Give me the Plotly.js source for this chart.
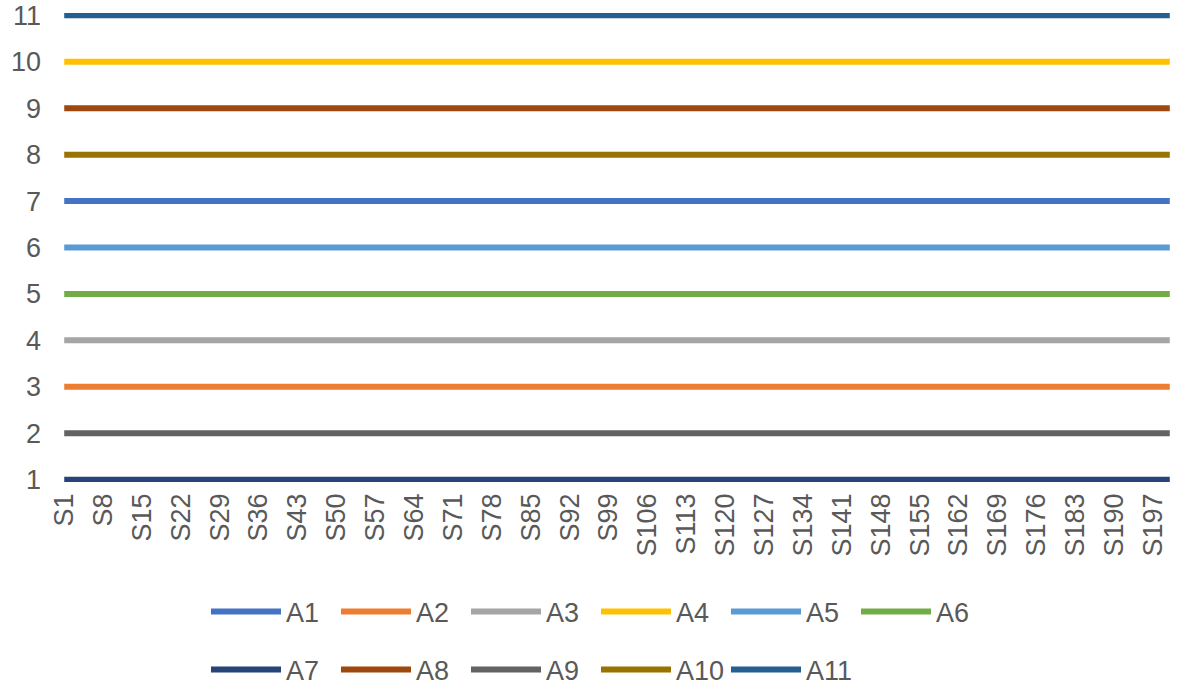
<!DOCTYPE html>
<html>
<head>
<meta charset="utf-8">
<script src="https://cdn.plot.ly/plotly-3.0.1.min.js"></script>
<style>
  html, body { margin: 0; padding: 0; background: #fff; }
  #chart { width: 1180px; height: 685px; }
</style>
</head>
<body>
<div id="chart"></div>
<script>
// series names, level of each flat line, Excel palette colours
var seriesNames = ['A1', 'A2', 'A3', 'A4', 'A5', 'A6', 'A7', 'A8', 'A9', 'A10', 'A11'];
var seriesLevels = [7, 3, 4, 10, 6, 5, 1, 9, 2, 8, 11];
var seriesColors = ['#4472C4', '#ED7D31', '#A5A5A5', '#FFC000', '#5B9BD5', '#70AD47',
                    '#264478', '#9E480E', '#636363', '#997300', '#255E91'];
var nSamples = 200;   // S1 .. S200
var tickStep = 7;     // every 7th category label shown

var categories = [];
for (var i = 1; i <= nSamples; i++) categories.push('S' + i);
var tickLabels = categories.filter(function (c, i) { return i % tickStep === 0; });

var txtColor = '#595959';
var fontFam = '"Liberation Sans", Arial, sans-serif';
var fontSize = 27;

var traces = seriesNames.map(function (name, k) {
    return {
        x: categories,
        y: categories.map(function () { return seriesLevels[k]; }),
        name: name,
        type: 'scatter',
        mode: 'lines',
        line: { color: seriesColors[k], width: 6 },
        legend: k < 6 ? 'legend' : 'legend2',
        hoverinfo: 'skip'
    };
});

var legendBase = {
    orientation: 'h',
    xref: 'container', yref: 'container',
    xanchor: 'left', yanchor: 'middle',
    itemwidth: 70,
    entrywidth: 45,
    entrywidthmode: 'pixels',
    font: { family: fontFam, size: fontSize, color: txtColor },
    bgcolor: 'rgba(0,0,0,0)',
    traceorder: 'normal'
};

var layout = {
    width: 1180,
    height: 685,
    margin: { l: 62, r: 8, t: 13, b: 203, pad: 0 },
    paper_bgcolor: '#fff',
    plot_bgcolor: '#fff',
    font: { family: fontFam, size: fontSize, color: txtColor },
    showlegend: true,
    legend: Object.assign({}, legendBase, { x: 206 / 1180, y: 1 - 612 / 685 }),
    legend2: Object.assign({}, legendBase, { x: 206 / 1180, y: 1 - 670 / 685 }),
    xaxis: {
        type: 'category',
        range: [-0.4, nSamples - 0.6],
        tickmode: 'array',
        tickvals: tickLabels,
        ticktext: tickLabels,
        tickangle: -90,
        ticks: '',
        showgrid: false,
        zeroline: false,
        showline: false,
        ticklabelstandoff: 5,
        tickfont: { family: fontFam, size: fontSize, color: txtColor }
    },
    yaxis: {
        range: [0.95, 11.05],
        tickmode: 'linear',
        tick0: 1,
        dtick: 1,
        ticks: '',
        showgrid: false,
        zeroline: false,
        showline: false,
        ticklabelstandoff: 20,
        tickfont: { family: fontFam, size: fontSize, color: txtColor }
    }
};

Plotly.newPlot('chart', traces, layout, { displayModeBar: false, staticPlot: true });
</script>
</body>
</html>
